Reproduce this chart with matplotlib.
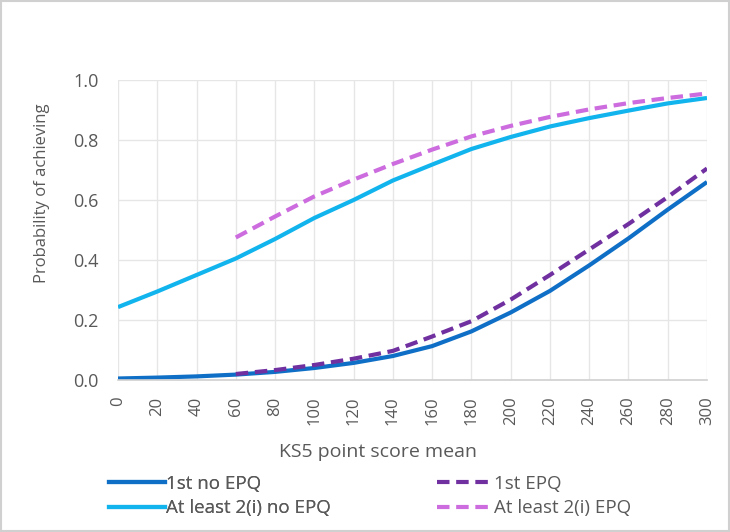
import matplotlib
matplotlib.use("Agg")
import matplotlib.pyplot as plt
from matplotlib.lines import Line2D
from matplotlib.patches import Rectangle

plt.rcParams['font.family'] = ['Open Sans', 'DejaVu Sans']

x_all = [0, 20, 40, 60, 80, 100, 120, 140, 160, 180, 200, 220, 240, 260, 280, 300]
x_epq = [60, 80, 100, 120, 140, 160, 180, 200, 220, 240, 260, 280, 300]

first_no_epq = [0.005, 0.008, 0.012, 0.018, 0.027, 0.04, 0.057, 0.08, 0.113, 0.162,
                0.225, 0.297, 0.382, 0.472, 0.568, 0.66]
first_epq = [0.02, 0.033, 0.05, 0.071, 0.097, 0.145, 0.196, 0.268, 0.35, 0.435,
             0.52, 0.61, 0.705]
two_i_no_epq = [0.243, 0.295, 0.35, 0.405, 0.47, 0.54, 0.60, 0.665, 0.718, 0.77,
                0.81, 0.845, 0.873, 0.898, 0.922, 0.94]
two_i_epq = [0.475, 0.545, 0.612, 0.668, 0.72, 0.768, 0.812, 0.847, 0.877, 0.902,
             0.923, 0.94, 0.955]

labels = ["1st no EPQ", "1st EPQ", "At least 2(i) no EPQ", "At least 2(i) EPQ"]
colors = ["#0F6FC6", "#7030A0", "#12B4EE", "#CC6CDE"]
text_color = "#595959"

W, H = 730, 532
fig = plt.figure(figsize=(W / 100, H / 100), dpi=100)
ax = fig.add_axes([118 / W, 1 - 380 / H, (707 - 118) / W, 300 / H])

lw = 3.0
dash = (0, (3, 1.6))
ax.plot(x_all, first_no_epq, color=colors[0], lw=lw, solid_capstyle='butt')
ax.plot(x_epq, first_epq, color=colors[1], lw=lw, ls=dash)
ax.plot(x_all, two_i_no_epq, color=colors[2], lw=lw, solid_capstyle='butt')
ax.plot(x_epq, two_i_epq, color=colors[3], lw=lw, ls=dash)

ax.set_xlim(0, 300)
ax.set_ylim(0, 1.0)
ax.set_xticks(x_all)
ax.set_xticklabels([str(v) for v in x_all], rotation=90)
ax.set_yticks([0, 0.2, 0.4, 0.6, 0.8, 1.0])
ax.set_yticklabels(["0.0", "0.2", "0.4", "0.6", "0.8", "1.0"])
ax.grid(True, color="#E6E6E6", lw=1.0)
ax.set_axisbelow(True)
for s in ["top", "right", "left"]:
    ax.spines[s].set_visible(False)
ax.spines["bottom"].set_color("#D0D0D0")
ax.spines["bottom"].set_linewidth(1.2)
ax.tick_params(axis='y', length=0, colors=text_color, labelsize=13, pad=14)
ax.tick_params(axis='x', length=0, colors=text_color, labelsize=12, pad=12)

fig.text(273 / W + (483 - 273) / W / 2, 1 - 452 / H, "KS5 point score mean",
         ha='center', va='center', fontsize=14, color=text_color)
fig.text(42 / W, 1 - 193 / H, "Probability of achieving", rotation=90,
         ha='center', va='center', fontsize=12, color=text_color)

h1 = [Line2D([], [], color=colors[0], lw=lw),
      Line2D([], [], color=colors[2], lw=lw)]
h2 = [Line2D([], [], color=colors[1], lw=lw, ls=dash),
      Line2D([], [], color=colors[3], lw=lw, ls=dash)]
common = dict(loc="center left", frameon=False, fontsize=13.5, labelcolor=text_color,
              handlelength=3.0, handletextpad=0.05, labelspacing=0.35,
              borderpad=0, borderaxespad=0)
leg1 = fig.legend(h1, [labels[0], labels[2]], bbox_to_anchor=(109 / W, 1 - 496 / H), **common)
fig.add_artist(leg1)
fig.legend(h2, [labels[1], labels[3]], bbox_to_anchor=(437 / W, 1 - 496 / H), **common)

fig.patches.append(Rectangle((0.002, 0.002), 0.996, 0.996, transform=fig.transFigure,
                             fill=False, edgecolor="#D0D0D0", lw=1.5))

fig.savefig("out.png", dpi=100)
